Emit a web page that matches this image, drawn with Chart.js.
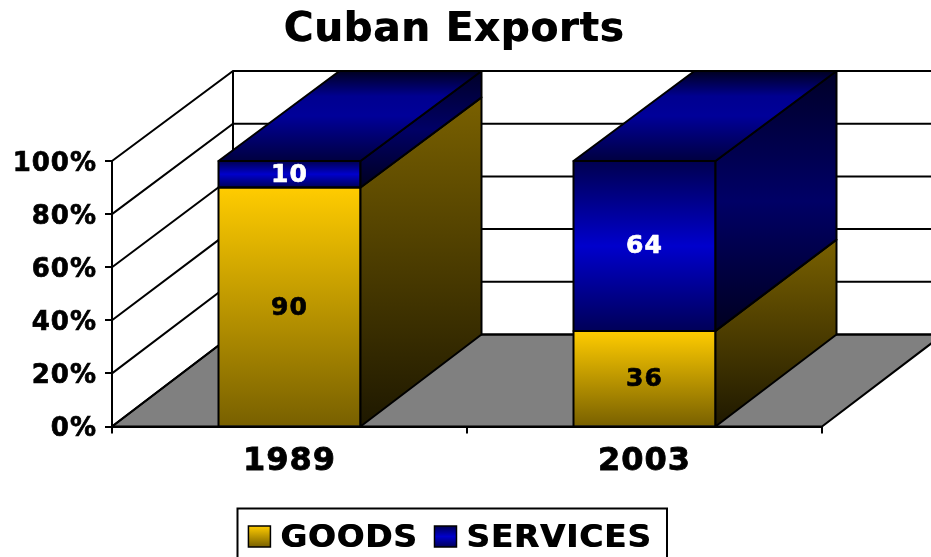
<!DOCTYPE html>
<html>
<head>
<meta charset="utf-8">
<title>Cuban Exports</title>
<script src="https://cdn.jsdelivr.net/npm/chart.js@4"></script>
<style>
  html, body { margin: 0; padding: 0; background: #fff; overflow: hidden; }
  canvas { display: block; }
</style>
</head>
<body>
<canvas id="chart" width="931" height="557"></canvas>
<script>
const categories = ['1989', '2003'];
const goods = [90, 36];
const services = [10, 64];
const yTicks = [0, 20, 40, 60, 80, 100];

const FONT = '"DejaVu Sans", Verdana, sans-serif';

// Oblique projection of the box: how far the rear plane sits from the front one.
const DEPTH_X = 121;
const DEPTH_Y_BASE = 92;
const DEPTH_Y_TOP = 90;

const rearY = (scale, v) =>
  scale.getPixelForValue(v) - (DEPTH_Y_BASE + (DEPTH_Y_TOP - DEPTH_Y_BASE) * v / 100);

function vGradient(ctx, y0, y1, stops) {
  const g = ctx.createLinearGradient(0, y0, 0, y1);
  stops.forEach(([at, c]) => g.addColorStop(at, c));
  return g;
}

const GOLD_FRONT = [[0, '#ffcc00'], [1, '#786000']];
const GOLD_SIDE = [[0, '#7a6100'], [1, '#1e1800']];
const BLUE_FRONT = [[0, '#000050'], [0.5, '#0000cc'], [1, '#000058']];
const BLUE_SIDE = [[0, '#000028'], [0.5, '#000066'], [1, '#000020']];
const BLUE_TOP = [[0, '#000040'], [0.5, '#000099'], [0.72, '#000090'], [1, '#000020']];

function polygon(ctx, pts, fill) {
  ctx.beginPath();
  pts.forEach(([x, y], i) => (i ? ctx.lineTo(x, y) : ctx.moveTo(x, y)));
  ctx.closePath();
  ctx.fillStyle = fill;
  ctx.fill();
  ctx.stroke();
}

// Second pass of a text block, nudged sideways, to thicken the bold face.
function embolden(block, dx) {
  block.left += dx;
  block.right += dx;
  block.draw();
  block.left -= dx;
  block.right -= dx;
}

// Slightly open tracking on all canvas text, closer to a Verdana-like set width.
function setTracking(chart) {
  chart.ctx.letterSpacing = '1px';
}

const box3d = {
  id: 'box3d',
  beforeUpdate: setTracking,
  beforeLayout: setTracking,
  beforeDraw: setTracking,
  afterLayout(chart) {
    // Title and legend both sit a little left of the canvas centre.
    const t = chart.titleBlock;
    t.left = 0;
    t.right = 908;
    const lg = chart.legend;
    lg.left = 45;
    lg.right = 855;
    lg.adjustHitBoxes();
  },
  beforeDatasetsDraw(chart) {
    const { ctx, scales: { x, y } } = chart;
    const l = x.left, r = x.right, b = y.getPixelForValue(0);
    ctx.save();
    ctx.strokeStyle = '#000';
    ctx.lineJoin = 'miter';
    ctx.lineWidth = 2;

    // Floor
    polygon(ctx, [[l, b], [r, b], [r + DEPTH_X, rearY(y, 0)], [l + DEPTH_X, rearY(y, 0)]], '#808080');

    // Side wall and rear wall rules
    yTicks.forEach(v => {
      const py = y.getPixelForValue(v), ry = rearY(y, v);
      ctx.beginPath();
      ctx.moveTo(l, py);
      ctx.lineTo(l + DEPTH_X, ry);
      ctx.lineTo(r + DEPTH_X, ry);
      ctx.stroke();
    });
    ctx.beginPath();
    ctx.moveTo(l + DEPTH_X, rearY(y, 0));
    ctx.lineTo(l + DEPTH_X, rearY(y, 100));
    ctx.stroke();
    ctx.restore();
  },
  afterDatasetsDraw(chart) {
    const { ctx, scales: { y } } = chart;
    ctx.save();
    ctx.strokeStyle = '#000';
    ctx.lineWidth = 2;
    ctx.lineJoin = 'round';

    categories.forEach((_, i) => {
      let base = 0;
      chart.data.datasets.forEach((ds, d) => {
        const bar = chart.getDatasetMeta(d).data[i];
        const right = bar.x + bar.width / 2, left = bar.x - bar.width / 2;
        const v = ds.data[i], top = base + v;
        const yT = y.getPixelForValue(top), yB = y.getPixelForValue(base);
        const rT = rearY(y, top), rB = rearY(y, base);
        const sideStops = d === 0 ? GOLD_SIDE : BLUE_SIDE;

        // Outline of the front face
        ctx.strokeRect(left, yT, right - left, yB - yT);

        // Right-hand face of this segment
        polygon(ctx, [[right, yB], [right, yT], [right + DEPTH_X, rT], [right + DEPTH_X, rB]],
          vGradient(ctx, rT, yB, sideStops));

        // Lid of the column
        if (d === chart.data.datasets.length - 1) {
          polygon(ctx, [[left, yT], [right, yT], [right + DEPTH_X, rT], [left + DEPTH_X, rT]],
            vGradient(ctx, yT, rT, BLUE_TOP));
        }

        // Value label
        ctx.save();
        ctx.fillStyle = ds.labelColor;
        ctx.strokeStyle = ds.labelColor;
        ctx.lineWidth = 0.7;
        ctx.font = 'bold 25px ' + FONT;
        ctx.textAlign = 'center';
        ctx.textBaseline = 'middle';
        const tx = bar.x, ty = (yT + yB) / 2 + 1;
        ctx.fillText(String(v), tx, ty);
        ctx.strokeText(String(v), tx, ty);
        ctx.restore();
        base = top;
      });
    });
    ctx.restore();
  },
  afterDraw(chart) {
    const { ctx, legend, titleBlock } = chart;
    embolden(titleBlock, 0.9);
    embolden(legend, 0.8);

    ctx.save();
    ctx.strokeStyle = '#000';
    // Legend frame runs past the bottom edge of the canvas
    ctx.lineWidth = 2;
    ctx.strokeRect(237.5, 508.5, 429.5, 60);
    // Gradient swatches
    ctx.lineWidth = 1.5;
    legend.legendHitBoxes.forEach((hit, i) => {
      const stops = i === 0 ? GOLD_FRONT : BLUE_FRONT;
      const sy = 526, h = 21;
      ctx.fillStyle = vGradient(ctx, sy, sy + h, stops);
      ctx.fillRect(hit.left, sy, 22, h);
      ctx.strokeRect(hit.left, sy, 22, h);
    });
    ctx.restore();
  }
};

function frontFill(stops) {
  return (c) => {
    const y = c.chart.scales.y;
    if (!y || c.type !== 'data') return 'transparent';
    let base = 0;
    for (let d = 0; d < c.datasetIndex; d++) base += c.chart.data.datasets[d].data[c.dataIndex];
    const top = base + c.dataset.data[c.dataIndex];
    return vGradient(c.chart.ctx, y.getPixelForValue(top), y.getPixelForValue(base), stops);
  };
}

new Chart(document.getElementById('chart'), {
  type: 'bar',
  data: {
    labels: categories,
    datasets: [
      { label: 'GOODS', data: goods, labelColor: '#000', backgroundColor: frontFill(GOLD_FRONT),
        borderWidth: 0, clip: false },
      { label: 'SERVICES', data: services, labelColor: '#fff', backgroundColor: frontFill(BLUE_FRONT),
        borderWidth: 0, clip: false }
    ]
  },
  plugins: [box3d],
  options: {
    responsive: false,
    devicePixelRatio: 1,
    animation: false,
    barPercentage: 0.4,
    categoryPercentage: 1,
    layout: { padding: { left: 0, right: 109, top: 0, bottom: -8 } },
    plugins: {
      tooltip: { enabled: false },
      title: {
        display: true,
        text: 'Cuban Exports',
        color: '#000',
        font: { family: FONT, size: 40, weight: 'bold' },
        padding: { top: 7, bottom: 106 }
      },
      legend: {
        position: 'bottom',
        labels: {
          color: '#000',
          font: { family: FONT, size: 32.5, weight: 'bold' },
          boxWidth: 15.5,
          boxHeight: 22,
          padding: 17,
          generateLabels: (chart) => chart.data.datasets.map((ds, i) => ({
            text: ds.label,
            fillStyle: 'transparent',
            strokeStyle: 'transparent',
            lineWidth: 0,
            datasetIndex: i,
            fontColor: '#000'
          }))
        }
      }
    },
    scales: {
      x: {
        stacked: true,
        offset: true,
        afterFit: (s) => { s.height = 79; },
        grid: { display: true, offset: true, drawOnChartArea: false, tickLength: 7, tickColor: '#000', lineWidth: 2 },
        border: { display: true, color: '#000', width: 2 },
        ticks: { color: '#000', font: { family: FONT, size: 32, weight: 'bold' }, padding: 9, maxRotation: 0,
          textStrokeWidth: 0.8, textStrokeColor: '#000' }
      },
      y: {
        stacked: true,
        min: 0,
        max: 100,
        afterFit: (s) => { s.width = 112; },
        afterBuildTicks: (s) => { s.ticks = yTicks.map(value => ({ value })); },
        grid: { display: true, drawOnChartArea: false, tickLength: 7, tickColor: '#000', lineWidth: 2 },
        border: { display: true, color: '#000', width: 2 },
        ticks: { color: '#000', font: { family: FONT, size: 26, weight: 'bold' }, padding: 8, labelOffset: 3,
          textStrokeWidth: 0.7, textStrokeColor: '#000',
          callback: (v) => v + '%' }
      }
    }
  }
});
</script>
</body>
</html>
